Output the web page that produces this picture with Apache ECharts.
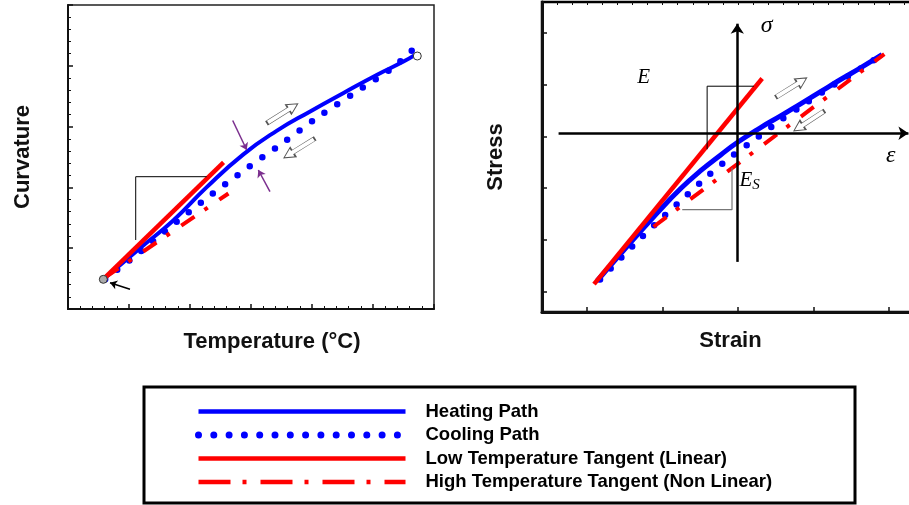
<!DOCTYPE html>
<html>
<head>
<meta charset="utf-8">
<script src="https://cdn.jsdelivr.net/npm/echarts@6/dist/echarts.min.js"></script>
<style>
html, body { margin: 0; padding: 0; background: #fff; }
#main { width: 909px; height: 505px; }
</style>
</head>
<body>
<div id="main"></div>
<script>
// left panel: curvature vs temperature
var heatLeft = [[0.58,0.49],[1.18,1.00],[1.73,1.46],[2.27,2.00],[2.87,2.54],[3.42,2.93],[3.97,3.25],[4.51,3.55],[5.06,3.85],[5.50,4.07],[5.69,4.18]];
var coolLeft = [[0.61,0.49],[1.17,0.93],[1.74,1.40],[2.31,1.85],[2.90,2.29],[3.49,2.71],[4.09,3.15],[4.69,3.55],[5.31,3.96],[5.67,4.28]];
var lowTanLeft = [[0.58,0.49],[2.55,2.41]];
var highTanLeft = [[0.61,0.52],[2.63,1.90]];
var slopeLeft = [[1.11,1.135],[1.11,2.176],[2.274,2.176]];

// right panel: stress vs strain
var heatRight = [[1.13,1.20],[1.44,1.72],[1.93,2.52],[2.24,2.99],[2.50,3.33],[2.77,3.64],[2.99,3.88],[3.30,4.17],[3.57,4.40],[3.83,4.63],[4.10,4.87],[4.36,5.10],[4.63,5.33],[4.91,5.58]];
var coolRight = [[1.17,1.23],[1.45,1.65],[1.73,2.06],[2.02,2.46],[2.32,2.86],[2.61,3.25],[2.92,3.62],[3.25,3.97],[3.57,4.32],[3.90,4.64],[4.23,4.96],[4.57,5.26],[4.92,5.59]];
var lowTanRight = [[1.09,1.14],[3.32,5.12]];
var highTanRight = [[1.88,2.25],[4.94,5.59]];
var slopeE = [[2.59,3.75],[2.59,4.97],[3.21,4.97]];
var slopeEs = [[2.26,2.58],[2.92,2.58],[2.92,3.39]];

// tick positions of the right panel
var rightXTicks = [1, 2, 3, 4, 5];
var rightYTicks = [1, 2, 3, 4, 5, 6];

var names = ['Heating Path', 'Cooling Path', 'Low Temperature Tangent (Linear)', 'High Temperature Tangent (Non Linear)'];

var sansFont = '"Liberation Sans", Arial, sans-serif';
var serifFont = '"Liberation Serif", "Times New Roman", serif';
var blue = '#0000ff';
var red = '#ff0000';
var dots = [0, 15.3];
var dashDot = [16, 12, 4, 14];
var hollowArrow = 'path://M0,3L24,3L24,0L34,5L24,10L24,7L0,7Z';

var chart = echarts.init(document.getElementById('main'));

var nameStyle = {
    fontFamily: sansFont,
    fontWeight: 'bold',
    fontSize: 22,
    color: '#111'
};

function baseAxis(grid, min, max, lineW) {
    return {
        type: 'value',
        gridIndex: grid,
        min: min,
        max: max,
        axisLine: {show: true, onZero: false, lineStyle: {color: '#111', width: lineW}},
        axisTick: {show: true, inside: true, length: 5, lineStyle: {color: '#111', width: 1.5}},
        axisLabel: {show: false},
        splitLine: {show: false}
    };
}

function minorAxis(grid, min, max) {
    return {
        type: 'value',
        gridIndex: grid,
        min: min,
        max: max,
        interval: 0.2,
        axisLine: {show: false},
        axisTick: {show: true, inside: true, length: 3, lineStyle: {color: '#111', width: 1}},
        axisLabel: {show: false},
        splitLine: {show: false}
    };
}

var xLeft = baseAxis(0, 0, 6, 2);
xLeft.interval = 1;
xLeft.minorTick = {show: true, splitNumber: 5, length: 3, lineStyle: {color: '#111', width: 1}};
xLeft.name = 'Temperature (°C)';
xLeft.nameLocation = 'middle';
xLeft.nameGap = 22;
xLeft.nameTextStyle = Object.assign({}, nameStyle, {padding: [0, 0, 0, 42]});

var yLeft = baseAxis(0, 0, 5, 2);
yLeft.interval = 1;
yLeft.minorTick = {show: true, splitNumber: 5, length: 3, lineStyle: {color: '#111', width: 1}};
yLeft.name = 'Curvature';
yLeft.nameLocation = 'middle';
yLeft.nameGap = 34;
yLeft.nameTextStyle = nameStyle;

var xRight = baseAxis(1, 0.4, 5.4, 3);
xRight.axisTick.customValues = rightXTicks;
xRight.name = 'Strain';
xRight.nameLocation = 'middle';
xRight.nameGap = 18;
xRight.nameTextStyle = nameStyle;

var yRight = baseAxis(1, 0.6, 6.6, 3);
yRight.axisTick.customValues = rightYTicks;
yRight.name = 'Stress';
yRight.nameLocation = 'middle';
yRight.nameGap = 35;
yRight.nameTextStyle = nameStyle;

function curve(name, grid, data, style, smooth) {
    return {
        name: name,
        type: 'line',
        xAxisIndex: grid === 0 ? 0 : 1,
        yAxisIndex: grid === 0 ? 0 : 1,
        data: data,
        smooth: smooth,
        symbol: 'none',
        silent: true,
        itemStyle: {color: style.color},
        lineStyle: style
    };
}

function mathLabel(coord, text, size) {
    return {
        coord: coord,
        symbol: 'circle',
        symbolSize: 0,
        label: {
            show: true,
            position: 'inside',
            formatter: text,
            fontFamily: serifFont,
            fontStyle: 'italic',
            fontSize: size,
            color: '#000'
        }
    };
}

var option = {
    animation: false,
    backgroundColor: '#fff',
    grid: [
        {left: 68, top: 5, width: 366, height: 304, show: true, borderColor: '#222', borderWidth: 1.5, outerBoundsMode: 'none'},
        {left: 542, top: 2, width: 377, height: 310, show: true, borderColor: '#000', borderWidth: 2.5, outerBoundsMode: 'none'}
    ],
    xAxis: [xLeft, xRight, minorAxis(1, 0.4, 5.4)],
    yAxis: [yLeft, yRight, minorAxis(1, 0.6, 6.6)],
    legend: {
        orient: 'vertical',
        left: 195,
        top: 402,
        padding: 0,
        itemWidth: 207,
        itemHeight: 18,
        itemGap: 4.5,
        selectedMode: false,
        itemStyle: {opacity: 0},
        textStyle: {fontFamily: sansFont, fontWeight: 'bold', fontSize: 18.5, color: '#000', padding: [0, 0, 0, 15]},
        data: [
            {name: names[0], lineStyle: {width: 4.5}},
            {name: names[1], lineStyle: {width: 7, type: dots, cap: 'round'}},
            {name: names[2], lineStyle: {width: 4.5}},
            {name: names[3], lineStyle: {width: 4.5, type: [32, 12, 4, 14]}}
        ]
    },
    graphic: [{
        type: 'rect',
        shape: {x: 144, y: 387, width: 711, height: 116},
        style: {fill: 'none', stroke: '#000', lineWidth: 3}
    }],
    series: [
        curve(names[0], 0, heatLeft, {color: blue, width: 4}, 0.5),
        curve(names[1], 0, coolLeft, {color: blue, width: 6.5, type: dots, cap: 'round'}, 0.3),
        curve(names[2], 0, lowTanLeft, {color: red, width: 4.5}, false),
        curve(names[3], 0, highTanLeft, {color: red, width: 4, type: dashDot}, false),
        {
            name: 'slopeLeft',
            type: 'line',
            xAxisIndex: 0,
            yAxisIndex: 0,
            data: slopeLeft,
            symbol: 'none',
            silent: true,
            lineStyle: {color: '#000', width: 1},
            markLine: {
                silent: true,
                symbol: ['none', 'arrow'],
                symbolSize: 7,
                label: {show: false},
                lineStyle: {color: '#7b2f8e', width: 1.5, type: 'solid'},
                data: [
                    [{coord: [2.70, 3.10]}, {coord: [2.93, 2.615]}],
                    [{coord: [3.311, 1.929]}, {coord: [3.12, 2.286]}],
                    [{coord: [1.016, 0.324], lineStyle: {color: '#000', width: 1.5}}, {coord: [0.689, 0.433]}]
                ]
            },
            markPoint: {
                silent: true,
                label: {show: false},
                data: [
                    {coord: [3.516, 3.219], symbol: hollowArrow, symbolSize: [36, 11], symbolRotate: 32,
                        itemStyle: {color: '#fff', borderColor: '#555', borderWidth: 1}},
                    {coord: [3.79, 2.643], symbol: hollowArrow, symbolSize: [36, 11], symbolRotate: 212,
                        itemStyle: {color: '#fff', borderColor: '#555', borderWidth: 1}},
                    {coord: [0.579, 0.488], symbol: 'circle', symbolSize: 8,
                        itemStyle: {color: '#aaa', borderColor: '#333', borderWidth: 1}},
                    {coord: [5.726, 4.161], symbol: 'circle', symbolSize: 8,
                        itemStyle: {color: '#fff', borderColor: '#333', borderWidth: 1}}
                ]
            }
        },
        curve(names[0], 1, heatRight, {color: blue, width: 5}, 0.5),
        curve(names[1], 1, coolRight, {color: blue, width: 6.5, type: dots, cap: 'round'}, 0.3),
        curve(names[2], 1, lowTanRight, {color: red, width: 4.5}, false),
        curve(names[3], 1, highTanRight, {color: red, width: 4, type: dashDot}, false),
        {
            name: 'slopeE',
            type: 'line',
            xAxisIndex: 1,
            yAxisIndex: 1,
            data: slopeE,
            symbol: 'none',
            silent: true,
            lineStyle: {color: '#000', width: 1},
            markLine: {
                silent: true,
                symbol: ['none', 'arrow'],
                symbolSize: 10,
                label: {show: false},
                lineStyle: {color: '#000', width: 2.5, type: 'solid'},
                data: [
                    [{coord: [0.62, 4.06]}, {coord: [5.26, 4.06]}],
                    [{coord: [2.99, 1.57]}, {coord: [2.99, 6.18]}]
                ]
            },
            markPoint: {
                silent: true,
                label: {show: false},
                data: [
                    {coord: [3.708, 4.946], symbol: hollowArrow, symbolSize: [36, 11], symbolRotate: 32,
                        itemStyle: {color: '#fff', borderColor: '#555', borderWidth: 1}},
                    {coord: [3.941, 4.296], symbol: hollowArrow, symbolSize: [36, 11], symbolRotate: 213,
                        itemStyle: {color: '#fff', borderColor: '#555', borderWidth: 1}},
                    mathLabel([3.379, 6.133], 'σ', 24),
                    mathLabel([5.026, 3.616], 'ε', 24),
                    mathLabel([1.749, 5.141], 'E', 21),
                    {
                        coord: [3.153, 3.143],
                        symbol: 'circle',
                        symbolSize: 0,
                        label: {
                            show: true,
                            position: 'inside',
                            formatter: '{e|E}{s|S}',
                            rich: {
                                e: {fontFamily: serifFont, fontStyle: 'italic', fontSize: 21, color: '#000'},
                                s: {fontFamily: serifFont, fontStyle: 'italic', fontSize: 15, color: '#000', padding: [8, 0, 0, 0]}
                            }
                        }
                    }
                ]
            }
        },
        {
            name: 'slopeEs',
            type: 'line',
            xAxisIndex: 1,
            yAxisIndex: 1,
            data: slopeEs,
            symbol: 'none',
            silent: true,
            lineStyle: {color: '#777', width: 1.2}
        }
    ]
};

chart.setOption(option);
</script>
</body>
</html>
